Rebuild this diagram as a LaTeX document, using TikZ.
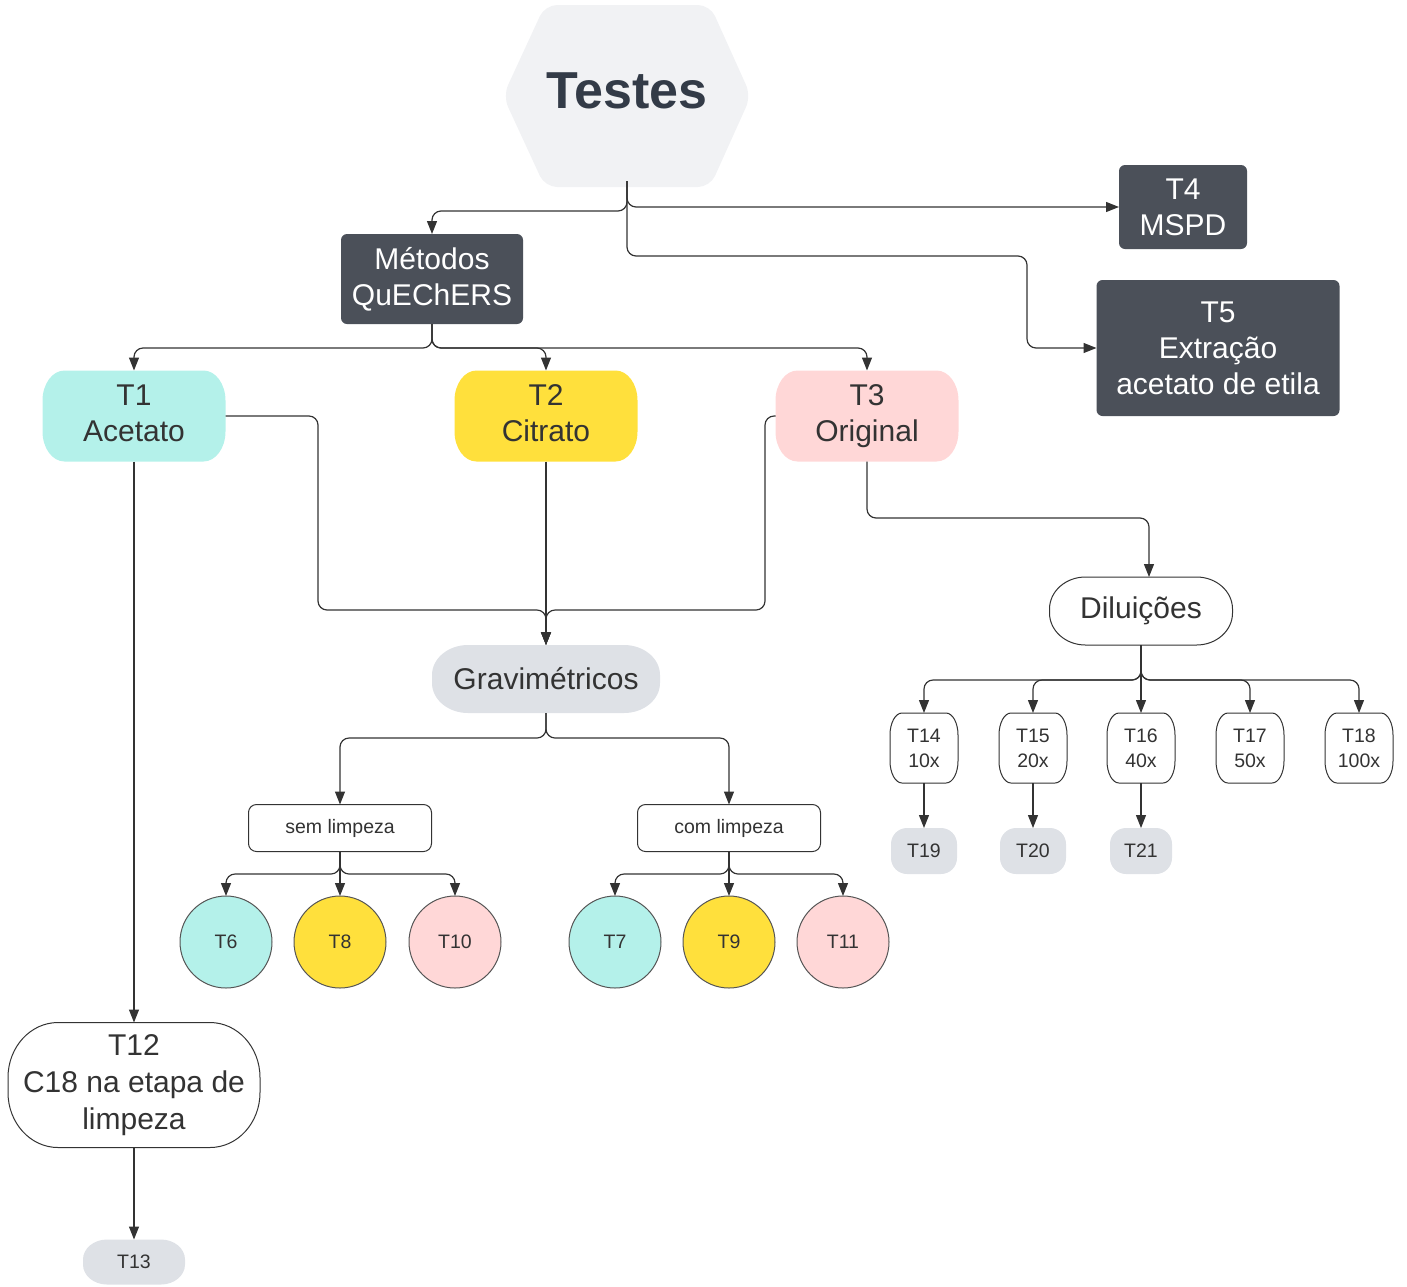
\documentclass[tikz,border=0pt]{standalone}
\usepackage{fontspec}
\setmainfont{Liberation Sans}
\usetikzlibrary{arrows.meta,calc}
\pgfdeclarelayer{bg}
\pgfsetlayers{bg,main}
\definecolor{txt}{HTML}{333333}
\definecolor{tdark}{HTML}{333B47}
\definecolor{dbox}{HTML}{4B5059}
\definecolor{hexfill}{HTML}{F1F2F4}
\definecolor{gfill}{HTML}{DEE1E6}
\definecolor{cyanf}{HTML}{B4F1EA}
\definecolor{yelf}{HTML}{FFE03C}
\definecolor{pinkf}{HTML}{FFD7D7}
\definecolor{linec}{HTML}{333333}
\definecolor{circb}{HTML}{555555}
\newcommand\fs[2]{\fontsize{#1}{#2}\selectfont}
\newcommand\eshape[4]{%
 \path[#4] ([xshift=#2]#1.north west) -- ([xshift=-#2]#1.north east)
   arc[start angle=90,end angle=0,x radius=#2,y radius=#3]
   -- ([yshift=#3]#1.south east)
   arc[start angle=0,end angle=-90,x radius=#2,y radius=#3]
   -- ([xshift=#2]#1.south west)
   arc[start angle=-90,end angle=-180,x radius=#2,y radius=#3]
   -- ([yshift=-#3]#1.north west)
   arc[start angle=180,end angle=90,x radius=#2,y radius=#3] -- cycle;}
\tikzset{
 x=1pt,y=1pt,
 lbl/.style={inner sep=0pt,outer sep=0pt,align=center,text=txt,font=\fs{30}{36}},
 small/.style={inner sep=0pt,outer sep=0pt,align=center,text=txt,font=\fs{19.5}{25}},
 dark/.style={lbl,text=white,fill=dbox,rounded corners=6pt},
 circ/.style={circle,small,minimum size=92pt,draw=circb,line width=1pt},
 conn/.style={draw=linec,line width=1.2pt,rounded corners=9pt,-{Triangle[length=13pt,width=10pt]}},
 outl/.style={draw=black!80,line width=1pt,fill=white},
}
\begin{document}
\begin{tikzpicture}
\useasboundingbox (0,0) rectangle (1407,-1286);
% hexagon
\path[fill=hexfill,rounded corners=12pt] (503,-96) -- (545,-5) -- (710,-5) -- (751,-96) -- (710,-187) -- (545,-187) -- cycle;
\node[font=\bfseries\fs{52}{60},text=tdark,anchor=base,inner sep=0pt] (testes) at (627,-108) {Testes};
\coordinate (tb) at (627,-181);

% dark boxes
\node[dark,minimum width=182pt,minimum height=90pt] (met) at (432,-279) {Métodos\\QuEChERS};
\node[dark,minimum width=128pt,minimum height=84pt] (t4) at (1183,-207) {T4\\MSPD};
\node[dark,minimum width=243pt,minimum height=136pt] (t5) at (1218,-348) {T5\\Extração\\acetato de etila};

% T1 T2 T3
\node[lbl,minimum width=183pt,minimum height=91pt] (t1) at (134,-416) {T1\\Acetato\vphantom{g}};
\node[lbl,minimum width=183pt,minimum height=91pt] (t2) at (546,-416) {T2\\Citrato\vphantom{g}};
\node[lbl,minimum width=183pt,minimum height=91pt] (t3) at (867,-416) {T3\\Original};

\node[lbl,minimum width=228pt,minimum height=68pt] (grav) at (546,-679) {Gravimétricos};
\node[lbl,minimum width=183pt,minimum height=68pt] (dil) at (1141,-611) {Diluições};
\node[lbl,minimum width=252pt,minimum height=125pt,font=\fs{30}{37}] (t12) at (134,-1085) {T12\\C18 na etapa de\\limpeza};
\node[small,minimum width=102pt,minimum height=45pt] (t13) at (134,-1262) {T13};

\node[small,minimum width=68pt,minimum height=70pt] (t14) at (924,-748) {T14\\10x};
\node[small,minimum width=68pt,minimum height=70pt] (t15) at (1033,-748) {T15\\20x};
\node[small,minimum width=68pt,minimum height=70pt] (t16) at (1141,-748) {T16\\40x};
\node[small,minimum width=68pt,minimum height=70pt] (t17) at (1250,-748) {T17\\50x};
\node[small,minimum width=68pt,minimum height=70pt] (t18) at (1359,-748) {T18\\100x};
\node[small,minimum width=66pt,minimum height=46pt] (t19) at (924,-851) {T19};
\node[small,minimum width=66pt,minimum height=46pt] (t20) at (1033,-851) {T20};
\node[small,minimum width=62pt,minimum height=46pt] (t21) at (1141,-851) {T21};

\node[small,minimum width=183pt,minimum height=47pt,draw=black!80,line width=1pt,rounded corners=8pt,fill=white] (sem) at (340,-828) {sem limpeza};
\node[small,minimum width=183pt,minimum height=47pt,draw=black!80,line width=1pt,rounded corners=8pt,fill=white] (com) at (729,-828) {com limpeza};

\node[circ,fill=cyanf] (t6) at (226,-942) {T6};
\node[circ,fill=yelf] (t8) at (340,-942) {T8};
\node[circ,fill=pinkf] (t10) at (455,-942) {T10};
\node[circ,fill=cyanf] (t7) at (615,-942) {T7};
\node[circ,fill=yelf] (t9) at (729,-942) {T9};
\node[circ,fill=pinkf] (t11) at (843,-942) {T11};

\begin{pgfonlayer}{bg}
\eshape{t1}{22pt}{30pt}{fill=cyanf}
\eshape{t2}{22pt}{30pt}{fill=yelf}
\eshape{t3}{22pt}{30pt}{fill=pinkf}
\eshape{grav}{36pt}{30pt}{fill=gfill}
\eshape{dil}{36pt}{32pt}{outl}
\eshape{t12}{50pt}{55pt}{outl}
\eshape{t13}{24pt}{20pt}{fill=gfill}
\foreach \n in {t14,t15,t16,t17,t18}{\eshape{\n}{12pt}{22pt}{outl}}
\foreach \n in {t19,t20,t21}{\eshape{\n}{16pt}{16pt}{fill=gfill}}
\end{pgfonlayer}

% connectors
\coordinate (s1) at (627,-211);
\draw[conn] (tb) -- (s1) -| (met.north);
\draw[conn] (tb) |- (t4.west);
\coordinate (c5) at (1027,-256);
\draw[conn] (tb) |- (c5) |- (t5.west);

\coordinate (s2) at (432,-348);
\draw[conn] (met.south) -- (s2) -| (t1.north);
\draw[conn] (met.south) -- (s2) -| (t2.north);
\draw[conn] (met.south) -- (s2) -| (t3.north);

\coordinate (j1) at (546,-610);
\coordinate (g1) at (318,-610);
\coordinate (g3) at (765,-610);
\draw[conn] (t1.east) -| (g1) -- (j1) -- (grav.north);
\draw[conn] (t3.west) -| (g3) -- (j1) -- (grav.north);
\draw[conn] (t2.south) -- (grav.north);

\draw[conn] (t1.south) -- (t12.north);
\draw[conn] (t12.south) -- (t13.north);

\coordinate (d1) at (1149,-518);
\draw[conn] (t3.south) |- (d1) -- (d1 |- dil.north);

\coordinate (s3) at (1141,-680);
\foreach \n in {t14,t15,t16,t17,t18}{\draw[conn] (dil.south) -- (s3) -| (\n.north);}
\draw[conn] (t14.south) -- (t19.north);
\draw[conn] (t15.south) -- (t20.north);
\draw[conn] (t16.south) -- (t21.north);

\coordinate (s4) at (546,-738);
\draw[conn] (grav.south) -- (s4) -| (sem.north);
\draw[conn] (grav.south) -- (s4) -| (com.north);

\coordinate (s5) at (340,-874);
\foreach \n in {t6,t8,t10}{\draw[conn] (sem.south) -- (s5) -| (\n.north);}
\coordinate (s6) at (729,-874);
\foreach \n in {t7,t9,t11}{\draw[conn] (com.south) -- (s6) -| (\n.north);}
\end{tikzpicture}
\end{document}
